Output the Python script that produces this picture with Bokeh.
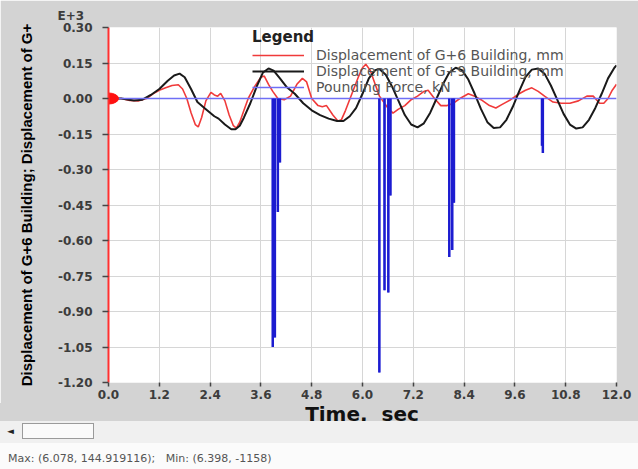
from bokeh.plotting import figure
from bokeh.models import (FixedTicker, CustomJSTickFormatter, Legend, LegendItem,
                          Title, Div, Range1d)
from bokeh.layouts import column
from bokeh.embed import file_html
from bokeh.resources import INLINE

# ---------------- data ----------------
# Displacement of G+6 building (mm) vs time (s)
g6_t = [0.0, 0.3, 0.5, 0.7, 0.9, 1.05, 1.2, 1.35, 1.5, 1.65, 1.75, 1.85, 1.95, 2.05, 2.12,
        2.2, 2.3, 2.42, 2.5, 2.58, 2.65, 2.75, 2.85, 2.95, 3.02, 3.1, 3.2, 3.3, 3.45, 3.6,
        3.68, 3.78, 3.88, 4.0, 4.15, 4.3, 4.45, 4.58, 4.68, 4.8, 4.95, 5.05, 5.15, 5.3,
        5.42, 5.5, 5.6, 5.75, 5.9, 6.0, 6.078, 6.18, 6.28, 6.4, 6.5, 6.6, 6.72, 6.85, 7.0,
        7.15, 7.3, 7.45, 7.55, 7.7, 7.85, 8.0, 8.15, 8.3, 8.5, 8.65, 8.8, 9.0, 9.15, 9.3,
        9.5, 9.7, 9.85, 10.0, 10.15, 10.3, 10.5, 10.7, 10.9, 11.1, 11.3, 11.45, 11.6, 11.7,
        11.8, 11.9, 12.0]
g6_v = [0, 0, -8, -10, 0, 20, 35, 45, 55, 58, 40, 0, -60, -110, -120,
        -80, -10, 26, 15, 10, 22, -10, -70, -115, -125, -100, -50, 0, 50, 90,
        95, 60, 30, 0, -5, 10, 60, 85, 70, 0, -30, -35, -30, -70,
        -95, -90, -50, 20, 90, 130, 144.919116, 120, 70, 10, -15, -40, -62, -45, -30,
        -5, 10, 30, 35, 0, -30, -30, -20, 0, 20, 10, -5, -30, -40, -25,
        -5, 20, 35, 45, 30, 10, -15, -20, -20, -10, 10, 10, -20, -20,
        0, 35, 60]

# Displacement of G+9 building (mm) vs time (s)
g9_t = [0.0, 0.3, 0.6, 0.8, 1.0, 1.2, 1.4, 1.55, 1.68, 1.8, 1.95, 2.1, 2.3, 2.5, 2.6,
        2.75, 2.9, 3.0, 3.1, 3.2, 3.35, 3.5, 3.65, 3.78, 3.9, 4.05, 4.2, 4.4, 4.6, 4.8,
        5.0, 5.2, 5.4, 5.55, 5.7, 5.85, 6.0, 6.15, 6.3, 6.4, 6.55, 6.7, 6.85, 7.0, 7.15,
        7.3, 7.45, 7.6, 7.75, 7.9, 8.05, 8.2, 8.35, 8.5, 8.65, 8.8, 8.95, 9.1, 9.25, 9.4,
        9.55, 9.7, 9.85, 10.0, 10.15, 10.3, 10.45, 10.6, 10.75, 10.9, 11.05, 11.2, 11.35,
        11.5, 11.65, 11.8, 11.95, 12.0]
g9_v = [0, 0, -8, -5, 15, 40, 75, 97, 105, 90, 40, -15, -45, -75, -85,
        -110, -130, -130, -115, -80, -20, 50, 110, 127, 118, 85, 50, 20, -20, -50,
        -70, -85, -95, -95, -75, -40, 20, 85, 120, 125, 100, 50, -10, -70, -110,
        -122, -105, -60, 0, 60, 110, 130, 120, 80, 20, -45, -100, -125, -122, -90,
        -35, 30, 90, 122, 127, 105, 55, -5, -65, -110, -127, -122, -90,
        -40, 20, 85, 130, 140]

# Pounding force (kN): impact pulses (time s, force kN)
pf_t = [3.88, 3.93, 4.00, 4.05, 6.398, 6.52, 6.61, 6.66, 8.05, 8.12, 8.16, 10.24, 10.26]
pf_v = [-1050, -1010, -480, -270, -1158, -810, -820, -410, -670, -640, -440, -200, -230]

x_ticks = [0.0, 1.2, 2.4, 3.6, 4.8, 6.0, 7.2, 8.4, 9.6, 10.8, 12.0]
y_ticks = [-1200, -1050, -900, -750, -600, -450, -300, -150, 0, 150, 300]

labels = ["Displacement of G+6 Building, mm", "Displacement of G+9 Building, mm", "Pounding Force, kN"]
y_title = "Displacement of G+6 Building; Displacement of G+"
x_title = "Time,&nbsp;&nbsp;sec"
exp_note = "E+3"
status_text = "Max: (6.078, 144.919116);&nbsp;&nbsp;&nbsp;Min: (6.398, -1158)"

# force time-series built from the pulses
ft = [0.0]
fv = [0.0]
for t, v in zip(pf_t, pf_v):
    ft += [t - 0.004, t, t + 0.004]
    fv += [0.0, v, 0.0]
ft.append(12.0)
fv.append(0.0)

GRAY = "#d3d3d3"
TXT = "#3c3c3c"

p = figure(width=638, height=403, x_range=Range1d(0, 12), y_range=Range1d(-1200, 300),
           output_backend="svg", toolbar_location=None,
           min_border_left=108, min_border_right=22, min_border_top=27, min_border_bottom=21,
           background_fill_color="white", border_fill_color=GRAY, outline_line_color=None,
           margin=(0, 0, 0, 0))

p.xgrid.grid_line_color = "#d6d6d6"
p.ygrid.grid_line_color = "#d6d6d6"

# axes
p.xaxis.ticker = FixedTicker(ticks=x_ticks)
p.yaxis.ticker = FixedTicker(ticks=y_ticks)
p.xaxis.formatter = CustomJSTickFormatter(code="return tick.toFixed(1);")
p.yaxis.formatter = CustomJSTickFormatter(code="return (tick/1000).toFixed(2);")
for ax in (p.xaxis, p.yaxis):
    ax.minor_tick_line_color = None
    ax.major_tick_in = 0
    ax.major_tick_line_color = "#444444"
    ax.major_tick_line_width = 1.5
    ax.major_label_text_font = "DejaVu Sans"
    ax.major_label_text_font_size = "12px"
    ax.major_label_text_font_style = "bold"
    ax.major_label_text_color = TXT
p.xaxis.axis_line_color = None
p.xaxis.major_tick_out = 4
p.xaxis.major_label_standoff = 3
p.yaxis.axis_line_color = "#ff3030"
p.yaxis.axis_line_width = 2
p.yaxis.major_tick_out = 6
p.yaxis.major_label_standoff = 10
p.yaxis.axis_label = y_title
p.yaxis.axis_label_standoff = 20
p.yaxis.axis_label_text_font = "Liberation Sans"
p.yaxis.axis_label_text_font_size = "15px"
p.yaxis.axis_label_text_font_style = "bold"
p.yaxis.axis_label_text_color = "#000000"

# series
r_red = p.line(g6_t, g6_v, line_color="#f03a3a", line_width=1.6)
r_blk = p.line(g9_t, g9_v, line_color="#1a1a1a", line_width=2)
r_blu = p.line(ft, fv, line_color="#6f6ff5", line_width=1.6)
p.segment(x0=pf_t, y0=[0] * len(pf_t), x1=pf_t, y1=pf_v, line_color="#1c1cd0", line_width=2.5)
p.ellipse(x=[0], y=[0], width=20, height=11, width_units="screen", height_units="screen",
          fill_color="#ff1010", line_color="#ff1010")

legend = Legend(items=[LegendItem(label=labels[0], renderers=[r_red]),
                       LegendItem(label=labels[1], renderers=[r_blk]),
                       LegendItem(label=labels[2], renderers=[r_blu])],
                title="Legend", location=(144, 287), padding=0, margin=0, spacing=0,
                glyph_width=52, glyph_height=16, label_height=16, label_standoff=12,
                label_text_font="DejaVu Sans", label_text_font_size="14px",
                label_text_color="#555555",
                title_text_font="DejaVu Sans", title_text_font_size="15px",
                title_text_font_style="bold", title_text_color="#222222", title_standoff=1,
                border_line_color=None, background_fill_alpha=0)
p.add_layout(legend)

p.add_layout(Title(text=exp_note, align="left", offset=-51, standoff=9,
                   text_font="DejaVu Sans", text_font_size="12px", text_font_style="bold",
                   text_color=TXT), "above")

status = Div(width=638, height=66, margin=(0, 0, 0, 0), text=(
    '<div style="position:relative;width:638px;height:66px;background:#fbfbfb;'
    'font-family:\'DejaVu Sans\';">'
    '<div style="position:absolute;left:0;top:0;width:638px;height:18px;background:' + GRAY + ';"></div>'
    '<div style="position:absolute;left:262px;top:-3px;width:200px;text-align:center;'
    'font-size:20px;font-weight:bold;color:#111;white-space:nowrap;">' + x_title + '</div>'
    '<div style="position:absolute;left:0;top:18px;width:638px;height:22px;background:#f0f0f0;"></div>'
    '<div style="position:absolute;left:7px;top:22px;font-size:9px;color:#222;">&#9668;</div>'
    '<div style="position:absolute;left:22px;top:20px;width:72px;height:16px;'
    'border:1px solid #9a9a9a;background:#fafafa;"></div>'
    '<div style="position:absolute;left:8px;top:48px;font-size:11px;color:#555;'
    'white-space:nowrap;">' + status_text + '</div></div>'))

layout = column(p, status, spacing=0)
open("out.html", "w").write(file_html(layout, INLINE))
